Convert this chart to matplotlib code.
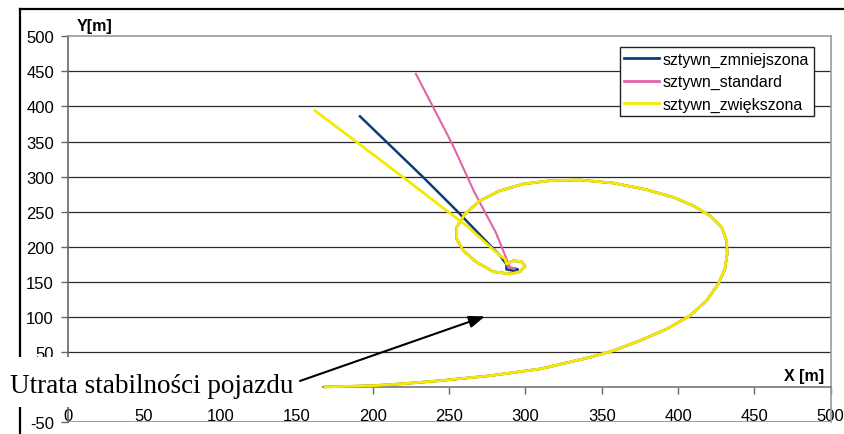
import matplotlib
matplotlib.use("Agg")
import matplotlib.pyplot as plt
from matplotlib.lines import Line2D
from matplotlib.patches import Rectangle

plt.rcParams['font.family'] = ['Liberation Sans', 'DejaVu Sans']
plt.rcParams['axes.unicode_minus'] = False

# shared part of the trajectory (big spiral + inner loop)
spiral_x = [168.6, 200.0, 222.0, 243.9, 276.7, 309.5, 342.3, 357.5, 375.0, 392.5,
            407.8, 418.7, 426.3, 430.7, 432.2, 431.8, 428.6, 420.9, 410.0, 396.8,
            379.4, 357.5, 335.7, 316.0, 298.5, 283.3, 270.2, 260.3, 254.9, 254.9,
            259.2, 268.0, 278.9, 289.8, 296.4, 299.7, 297.5, 292.0]
spiral_y = [0.5, 2.3, 5.5, 9.4, 16.5, 26.1, 42.7, 52.1, 66.4, 83.0,
            102.0, 123.4, 147.2, 168.5, 189.9, 208.8, 227.9, 244.4, 258.7, 270.7,
            281.5, 291.0, 295.3, 294.3, 289.6, 280.1, 265.8, 246.9, 227.9, 211.3,
            194.6, 178.1, 164.7, 161.4, 164.7, 172.4, 178.9, 180.3]

# straight exits after the inner loop
blue_tail_x = [287.6, 287.5, 292.0, 295.0, 291.0, 289.8, 283.3, 254.9, 233.0, 191.5]
blue_tail_y = [175.6, 168.0, 166.0, 168.0, 170.0, 168.5, 187.5, 251.6, 299.1, 386.0]

pink_tail_x = [287.6, 289.0, 293.0, 289.8, 280.5, 266.5, 252.0, 239.0, 228.2]
pink_tail_y = [175.6, 170.0, 169.0, 170.9, 220.8, 277.8, 346.6, 401.1, 446.3]

yellow_tail_x = [287.6, 286.6, 283.3, 261.4, 248.3, 218.5, 188.2, 162.0]
yellow_tail_y = [175.6, 182.8, 187.5, 230.2, 251.6, 301.4, 351.3, 394.0]

labels = ['sztywn_zmniejszona', 'sztywn_standard', 'sztywn_zwiększona']
colors = ['#0b3d7a', '#e064a8', '#f5e900']

x_ticks = list(range(0, 501, 50))
y_ticks = list(range(-50, 501, 50))
# the "0" label of the Y axis is hidden behind the annotation box
y_tick_labels = ['' if v == 0 else str(v) for v in y_ticks]

fig = plt.figure(figsize=(8.45, 4.35), dpi=100)
ax = fig.add_axes([0.0802, 0.0267, 0.9028, 0.8876])
ax.set_xlim(0, 500)
ax.set_ylim(-50, 500)

# outer chart frame (cropped: only left and top edges visible)
fig.add_artist(Line2D([20 / 845, 20 / 845], [0, 1 - 10 / 435], transform=fig.transFigure,
                      color='black', lw=1.6, zorder=-1))
fig.add_artist(Line2D([20 / 845, 1], [1 - 10 / 435, 1 - 10 / 435], transform=fig.transFigure,
                      color='black', lw=1.6, zorder=-1))

ax.hlines(y_ticks[2:-1], 0, 500, color='#2a2a2a', lw=0.9, zorder=1)
ax.axhline(-50, color='#8a8a8a', lw=1.2, zorder=1)

for sp in ['top', 'right']:
    ax.spines[sp].set_color('#9a9a9a')
    ax.spines[sp].set_linewidth(1.2)
ax.spines['left'].set_color('#666666')
ax.spines['left'].set_linewidth(1.2)
ax.spines['bottom'].set_position(('data', 0))
ax.spines['bottom'].set_color('#777777')
ax.spines['bottom'].set_linewidth(1.2)

ax.set_xticks(x_ticks)
ax.set_yticks(y_ticks)
ax.set_yticklabels(y_tick_labels)
ax.tick_params(axis='y', length=5, width=1, color='#666666', pad=5, labelsize=12)
ax.tick_params(axis='x', length=5, width=1, color='#666666', pad=10, labelsize=12)

ax.plot(spiral_x + blue_tail_x, spiral_y + blue_tail_y, color=colors[0], lw=1.8,
        label=labels[0], zorder=3, solid_joinstyle='round')
ax.plot(spiral_x + pink_tail_x, spiral_y + pink_tail_y, color=colors[1], lw=1.5,
        label=labels[1], zorder=3, solid_joinstyle='round')
ax.plot(spiral_x + yellow_tail_x, spiral_y + yellow_tail_y, color=colors[2], lw=2.0,
        label=labels[2], zorder=3, solid_joinstyle='round')

ax.text(6, 515, 'Y[m]', fontsize=11.5, fontweight='bold', ha='left', va='center',
        clip_on=False)
ax.text(495.6, 16.8, 'X [m]', fontsize=11.5, fontweight='bold', ha='right', va='center')

leg = ax.legend(loc='upper right', bbox_to_anchor=(0.978, 0.9723), borderaxespad=0,
                fontsize=11.5, fancybox=False, framealpha=1, edgecolor='#222222',
                handlelength=2.2, handletextpad=0.2, borderpad=0.3, labelspacing=0.45)
leg.get_frame().set_linewidth(1.0)
for line in leg.get_lines():
    line.set_linewidth(2.0)

# white box of the annotation covering the corner of the axes
ax.add_patch(Rectangle((0, 1 - 408 / 435), 322 / 845, 50 / 435, transform=fig.transFigure,
                       facecolor='white', edgecolor='none', zorder=4, clip_on=False))
ax.text(-37.9, -7.1, 'Utrata stabilności pojazdu', fontsize=19.5,
        family=['Liberation Serif', 'DejaVu Serif'], ha='left', va='baseline',
        zorder=6, clip_on=False)
ax.annotate('', xy=(273.4, 101.0), xytext=(152.2, 9.0), annotation_clip=False, zorder=6,
            arrowprops=dict(arrowstyle='-|>,head_length=9.5,head_width=3.6',
                            mutation_scale=1, color='black', lw=1.5,
                            shrinkA=0, shrinkB=0))

fig.savefig('out.png', dpi=100)
